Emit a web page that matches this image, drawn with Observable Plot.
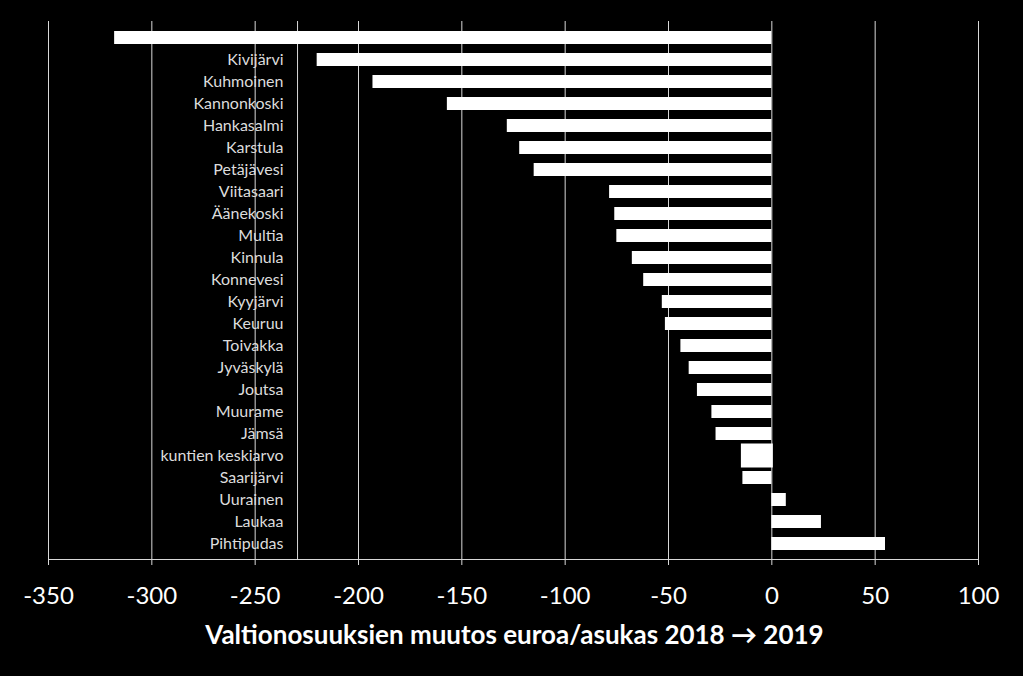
<!DOCTYPE html>
<html>
<head>
<meta charset="utf-8">
<script src="https://cdn.jsdelivr.net/npm/d3@7"></script>
<script src="https://cdn.jsdelivr.net/npm/@observablehq/plot@0.6"></script>
<style>
  html, body { margin: 0; padding: 0; background: #000; }
  #chart svg { display: block; background: #000; }
  #title {
    width: 1023px; height: 40px; line-height: 40px; text-align: center;
    font-family: Lato, "Open Sans", sans-serif; font-weight: bold; font-size: 26px;
    color: #fff; padding-left: 6px; box-sizing: border-box;
  }
</style>
</head>
<body>
<div id="chart"></div>
<div id="title">Valtionosuuksien muutos euroa/asukas 2018 → 2019</div>
<script>
const municipalities = ["", "Kivijärvi", "Kuhmoinen", "Kannonkoski", "Hankasalmi", "Karstula",
  "Petäjävesi", "Viitasaari", "Äänekoski", "Multia", "Kinnula", "Konnevesi", "Kyyjärvi",
  "Keuruu", "Toivakka", "Jyväskylä", "Joutsa", "Muurame", "Jämsä", "kuntien keskiarvo",
  "Saarijärvi", "Uurainen", "Laukaa", "Pihtipudas"];
const changes = [-318, -220, -193, -157, -128, -122, -115, -78.5, -76, -75, -67.5, -62, -53,
  -51.5, -44, -40, -36, -29, -27, -14, -14, 7, 24, 55];
const xTicks = [-350, -300, -250, -200, -150, -100, -50, 0, 50, 100];
const highlighted = ["kuntien keskiarvo"];
const dividerLines = [-229.5];

const data = municipalities.map((name, i) => ({name, value: changes[i]}));

const chart = Plot.plot({
  width: 1023,
  height: 614,
  marginLeft: 48,
  marginRight: 45,
  marginTop: 21,
  marginBottom: 55,
  style: {background: "#000", color: "#fff", fontFamily: "Lato, 'Open Sans', sans-serif"},
  x: {domain: [-350, 100]},
  y: {domain: municipalities, paddingInner: 0.42, paddingOuter: 0.21},
  marks: [
    Plot.gridX(xTicks.filter(t => t !== -350), {stroke: "#d8d8d8", strokeOpacity: 1, strokeWidth: 1}),
    Plot.ruleX(dividerLines, {stroke: "#d8d8d8", strokeWidth: 1}),
    Plot.ruleX([-350], {stroke: "#d8d8d8", strokeWidth: 1}),
    Plot.axisY({tickSize: 0, tickPadding: 0, dx: 235, fontSize: 16, fill: "#dcdcdc", label: null}),
    Plot.barX(data, {x: "value", y: "name", fill: "#fff"}),
    Plot.barX(data.filter(d => highlighted.includes(d.name)), {
      x1: "value", x2: 0, y: "name", fill: "#fff", stroke: "#fff", strokeWidth: 3,
      insetTop: -4, insetBottom: -4
    }),
    Plot.frame({anchor: "bottom", stroke: "#d8d8d8"}),
    Plot.axisX({ticks: xTicks, tickSize: 6, tickPadding: 21, fontSize: 24, stroke: "#d8d8d8", fill: "#fff",
      tickFormat: d => String(d), label: null})
  ]
});
document.getElementById("chart").append(chart);
</script>
</body>
</html>
